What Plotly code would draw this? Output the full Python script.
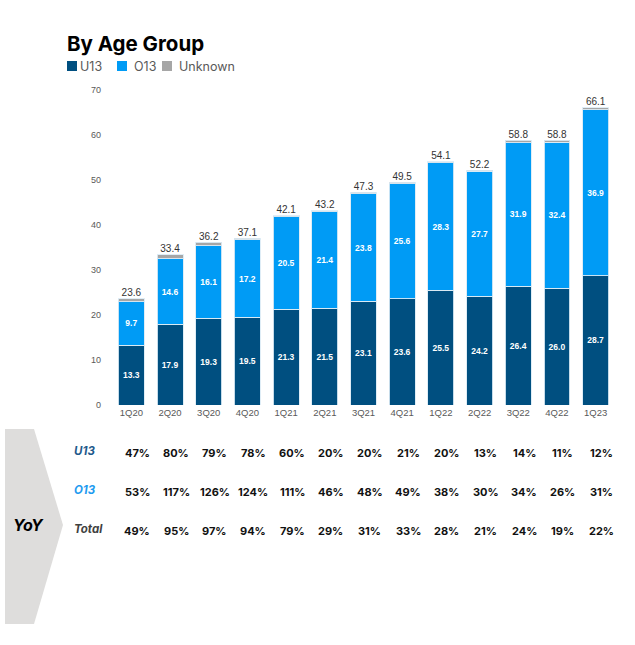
import plotly.graph_objects as go

quarters = ["1Q20", "2Q20", "3Q20", "4Q20", "1Q21", "2Q21", "3Q21", "4Q21",
            "1Q22", "2Q22", "3Q22", "4Q22", "1Q23"]
u13 = [13.3, 17.9, 19.3, 19.5, 21.3, 21.5, 23.1, 23.6, 25.5, 24.2, 26.4, 26.0, 28.7]
o13 = [9.7, 14.6, 16.1, 17.2, 20.5, 21.4, 23.8, 25.6, 28.3, 27.7, 31.9, 32.4, 36.9]
unknown = [0.6, 0.9, 0.8, 0.4, 0.3, 0.3, 0.4, 0.3, 0.3, 0.3, 0.5, 0.4, 0.5]
totals = [23.6, 33.4, 36.2, 37.1, 42.1, 43.2, 47.3, 49.5, 54.1, 52.2, 58.8, 58.8, 66.1]

yoy_u13 = ["47%", "80%", "79%", "78%", "60%", "20%", "20%", "21%", "20%", "13%", "14%", "11%", "12%"]
yoy_o13 = ["53%", "117%", "126%", "124%", "111%", "46%", "48%", "49%", "38%", "30%", "34%", "26%", "31%"]
yoy_total = ["49%", "95%", "97%", "94%", "79%", "29%", "31%", "33%", "28%", "21%", "24%", "19%", "22%"]

C_U13 = "#004F80"
C_O13 = "#009BF5"
C_UNK = "#A6A6A6"

W, H = 635, 645
L, R, T, B = 112, 20, 90, 240
PW = W - L - R
PH = H - T - B


def px(x):
    return (x - L) / PW


def py(y):
    return (H - B - y) / PH


fig = go.Figure()
line = dict(color="rgba(220,235,245,0.9)", width=1)
fig.add_trace(go.Bar(x=quarters, y=u13, name="U13", marker=dict(color=C_U13, line=line),
                     text=[f"{v:.1f}" for v in u13], textposition="inside",
                     insidetextanchor="middle", textangle=0,
                     textfont=dict(family="Liberation Sans", size=8.5, color="white", weight="bold")))
fig.add_trace(go.Bar(x=quarters, y=o13, name="O13", marker=dict(color=C_O13, line=line),
                     text=[f"{v:.1f}" for v in o13], textposition="inside",
                     insidetextanchor="middle", textangle=0,
                     textfont=dict(family="Liberation Sans", size=8.5, color="white", weight="bold")))
fig.add_trace(go.Bar(x=quarters, y=unknown, name="Unknown", marker=dict(color=C_UNK, line=line),
                     textposition="none"))
fig.add_trace(go.Scatter(x=quarters, y=totals, mode="text", text=[f"{v:.1f}" for v in totals],
                         textposition="top center", showlegend=False, hoverinfo="skip",
                         textfont=dict(family="Liberation Sans", size=10, color="#333333")))

ann = []
shapes = []

# Title
ann.append(dict(text="<b>By Age Group</b>", xref="paper", yref="paper", x=px(65), y=py(43),
                xanchor="left", yanchor="middle", showarrow=False,
                font=dict(family="Inter", size=20.5, color="black")))

# Manual legend
legend_items = [("U13", C_U13, 67, 78), ("O13", C_O13, 117, 132), ("Unknown", C_UNK, 162, 177)]
for name, col, sx, tx in legend_items:
    shapes.append(dict(type="rect", xref="paper", yref="paper",
                       x0=px(sx), x1=px(sx + 10), y0=py(71), y1=py(61),
                       fillcolor=col, line=dict(width=0)))
    ann.append(dict(text=name, xref="paper", yref="paper", x=px(tx), y=py(66),
                    xanchor="left", yanchor="middle", showarrow=False,
                    font=dict(family="Inter", size=12.5, color="#595959")))

# YoY chevron
shapes.append(dict(type="path", xref="paper", yref="paper",
                   path=(f"M {px(5)} {py(429)} L {px(34)} {py(429)} L {px(63)} {py(525)} "
                         f"L {px(34)} {py(624)} L {px(5)} {py(624)} Z"),
                   fillcolor="#DEDDDC", line=dict(width=0), layer="below"))
ann.append(dict(text="<b><i>YoY</i></b>", xref="paper", yref="paper", x=px(28), y=py(525),
                xanchor="center", yanchor="middle", showarrow=False,
                font=dict(family="Inter", size=16, color="black")))

rows = [("U13", "#1F5A8C", yoy_u13, 451), ("O13", "#1E9BF0", yoy_o13, 490), ("Total", "#404040", yoy_total, 529)]
for label, col, vals, yy in rows:
    ann.append(dict(text=f"<b><i>{label}</i></b>", xref="paper", yref="paper", x=px(72), y=py(yy),
                    xanchor="left", yanchor="middle", showarrow=False,
                    font=dict(family="Inter", size=11.5, color=col)))
    for q, v in zip(quarters, vals):
        ann.append(dict(text=f"<b>{v}</b>", xref="x", yref="paper", x=q, y=py(yy + 2), xshift=6,
                        xanchor="center", yanchor="middle", showarrow=False,
                        font=dict(family="Inter", size=11, color="#111111")))

fig.update_layout(
    width=W, height=H, barmode="stack", bargap=0.33,
    margin=dict(l=L, r=R, t=T, b=B),
    plot_bgcolor="white", paper_bgcolor="white",
    showlegend=False,
    annotations=ann, shapes=shapes,
    xaxis=dict(range=[-0.5, len(quarters) - 0.5], showgrid=False, showline=False,
               zeroline=False, ticks="",
               tickfont=dict(family="Liberation Sans", size=9.5, color="#595959")),
    yaxis=dict(range=[0, 70], dtick=10, showgrid=False, showline=False, zeroline=False,
               ticks="", ticklabelstandoff=10,
               tickfont=dict(family="Liberation Sans", size=9, color="#595959")),
)

fig.write_html("out.html", config={"displayModeBar": False},
               post_script="document.body.style.margin='0';")
